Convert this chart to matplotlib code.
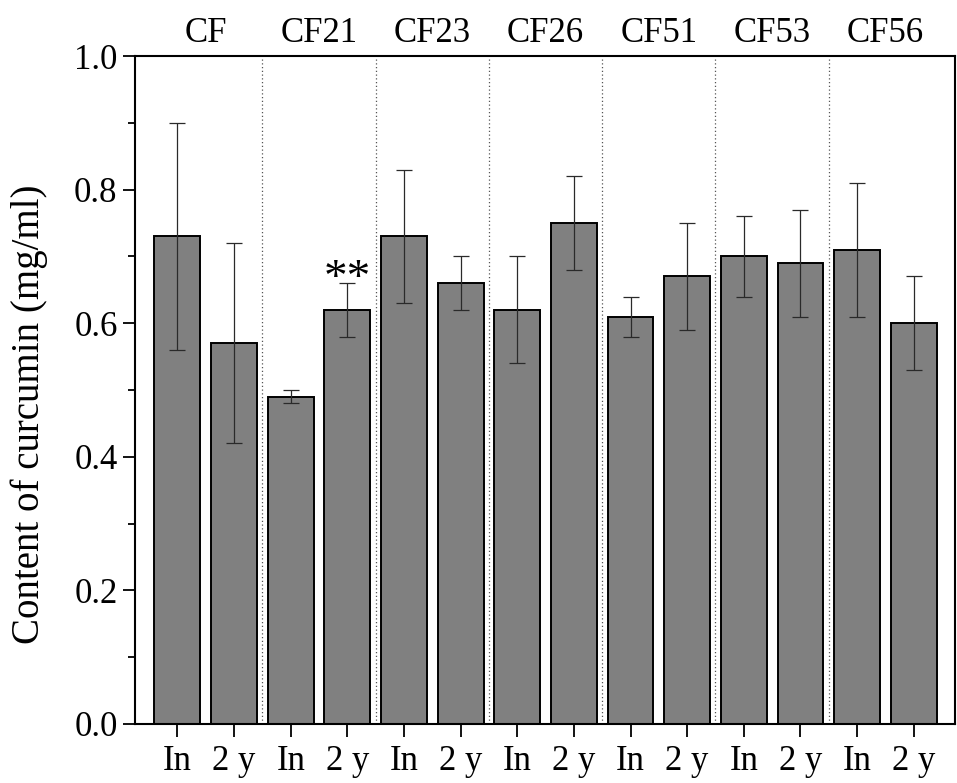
import numpy as np
import matplotlib.pyplot as plt

plt.rcParams['font.family'] = ['Liberation Serif', 'DejaVu Serif']

# data
groups = ["CF", "CF21", "CF23", "CF26", "CF51", "CF53", "CF56"]
times = ["In", "2 y"]
means = [0.73, 0.57, 0.49, 0.62, 0.73, 0.66, 0.62, 0.75, 0.61, 0.67, 0.70, 0.69, 0.71, 0.60]
errs = [0.17, 0.15, 0.01, 0.04, 0.10, 0.04, 0.08, 0.07, 0.03, 0.08, 0.06, 0.08, 0.10, 0.07]
signif = {3: "**"}

x = np.arange(len(means))
labels = times * len(groups)

fig = plt.figure(figsize=(9.57, 7.83), dpi=100)
ax = fig.add_axes([0.141, 0.0754, 0.857, 0.853])

ax.bar(x, means, width=0.81, color="#808080", edgecolor="black", linewidth=1.4, zorder=2)
ax.errorbar(x, means, yerr=errs, fmt="none", ecolor="#2a2a2a", elinewidth=0.9,
            capsize=6, capthick=0.9, zorder=3)

# dotted separators between groups
for b in np.arange(1.5, len(means) - 1, 2):
    ax.axvline(b, color="#555555", linestyle=(0, (1, 2)), linewidth=0.9, zorder=1)

for i, s in signif.items():
    ax.text(x[i], means[i] + errs[i] - 0.027, s, ha="center", va="bottom", fontsize=34)

# group names on top
for k, g in enumerate(groups):
    ax.text(2 * k + 0.5, 1.021, g, ha="center", va="baseline", fontsize=25,
            transform=ax.get_xaxis_transform())

ax.set_xlim(-0.75, 13.73)
ax.set_ylim(0, 1.0)
ax.set_xticks(x)
ax.set_xticklabels(labels)
ax.set_yticks(np.arange(0, 1.01, 0.2))
ax.set_yticks(np.arange(0.1, 1.0, 0.2), minor=True)
ax.yaxis.set_major_formatter(plt.FormatStrFormatter("%.1f"))
ax.tick_params(axis="both", direction="out", labelsize=25, width=1.3, length=9)
ax.tick_params(axis="y", which="minor", direction="out", width=1.3, length=5)
ax.tick_params(axis="x", pad=6)
for sp in ax.spines.values():
    sp.set_linewidth(1.5)
ax.set_ylabel("Content of curcumin (mg/ml)", fontsize=28)
ax.yaxis.set_label_coords(-0.106, 0.463)

fig.savefig("out.png", dpi=100)
